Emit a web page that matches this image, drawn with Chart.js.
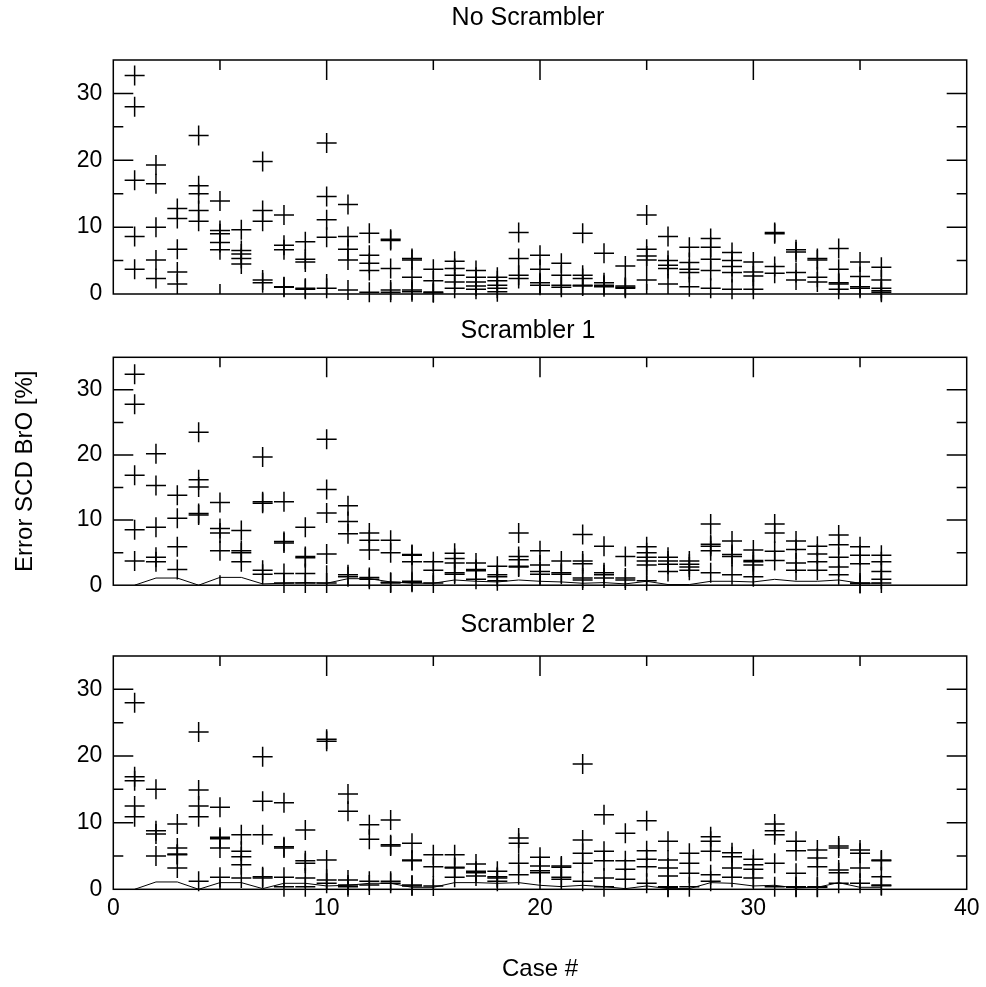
<!DOCTYPE html>
<html lang="en">
<head>
<meta charset="UTF-8">
<title>Error SCD BrO</title>
<script src="https://cdn.jsdelivr.net/npm/chart.js"></script>
<style>
  body { margin: 0; background: #fff; }
  .wrap { position: relative; width: 986px; height: 987px; }
  canvas { position: absolute; left: 0; }
</style>
</head>
<body>
<div class="wrap">
  <canvas id="p1" width="986" height="320" style="top:0px"></canvas>
  <canvas id="p2" width="986" height="300" style="top:310px"></canvas>
  <canvas id="p3" width="986" height="387" style="top:600px"></canvas>
</div>

<script>
// case numbers on the x axis
const cases = [1, 2, 3, 4, 5, 6, 7, 8, 9, 10, 11, 12, 13, 14, 15, 16, 17, 18,
               19, 20, 21, 22, 23, 24, 25, 26, 27, 28, 29, 30, 31, 32, 33, 34, 35, 36];

// errors [%] per case, one list per case
const noScrambler = [
  [32.7, 28.0, 17.0, 8.6, 3.7], [19.3, 16.5, 10.0, 5.1, 2.3], [12.8, 11.3, 6.7, 3.3, 1.5],
  [23.7, 16.2, 15.0, 12.5, 10.9], [13.9, 9.5, 9.0, 7.7, 6.6], [9.6, 6.5, 6.0, 5.3, 4.5],
  [19.8, 12.5, 10.9, 2.1, 1.7], [11.8, 7.3, 6.6, 1.1, 1.0], [7.8, 5.2, 4.8, 0.85, 0.7],
  [22.6, 14.6, 11.1, 8.5, 0.85], [13.4, 8.6, 6.7, 5.1, 0.6], [9.1, 5.8, 4.6, 3.5, 0.25],
  [8.2, 8.0, 3.8, 0.6, 0.25], [5.3, 5.1, 2.5, 0.6, 0.35], [3.7, 2.0, 0.3, 0.2],
  [4.9, 3.8, 2.8, 1.8, 0.85], [3.5, 2.5, 1.8, 1.2, 0.7], [2.5, 2.0, 1.3, 0.85, 0.35],
  [9.2, 5.3, 2.8, 2.3], [5.8, 3.7, 1.7, 1.3], [4.6, 2.8, 1.3, 1.0],
  [9.1, 2.8, 2.3, 1.3, 1.2], [6.1, 1.7, 1.3, 1.1], [4.2, 1.2, 1.0, 0.85],
  [11.8, 6.7, 5.7, 5.1, 2.1], [8.6, 5.0, 4.3, 3.8, 1.5], [7.0, 4.7, 3.7, 3.2, 1.1],
  [8.3, 7.0, 5.2, 3.5, 0.85], [6.2, 5.0, 4.1, 3.2, 0.7], [4.8, 3.3, 2.7, 0.7],
  [9.2, 9.0, 4.1, 3.1], [6.6, 6.3, 3.2, 2.1], [5.3, 5.1, 2.5, 1.8],
  [6.8, 3.7, 1.7, 1.5, 0.7], [4.8, 2.6, 1.1, 0.85], [4.0, 2.1, 0.85, 0.5, 0.25]
];

const scrambler1 = [
  [32.4, 27.8, 16.9, 8.5, 3.7], [20.2, 15.3, 8.9, 4.3, 3.6], [13.8, 10.3, 5.9, 2.4],
  [23.5, 16.2, 15.1, 11.0, 10.8], [12.7, 8.7, 8.0, 5.3], [8.4, 5.3, 5.0, 3.6],
  [19.7, 12.8, 12.6, 2.3, 1.7], [12.8, 6.7, 6.5, 1.8, 0.35], [8.9, 4.4, 4.2, 1.8, 0.35],
  [22.4, 14.7, 11.1, 4.8, 0.35], [12.2, 9.8, 7.9, 1.6, 1.3], [8.0, 6.9, 5.4, 1.2, 0.9],
  [6.9, 5.0, 0.45, 0.35], [4.7, 4.6, 3.6, 0.6, 0.45], [3.6, 2.3, 0.35],
  [4.9, 4.1, 3.4, 1.9, 1.7], [3.4, 2.4, 2.2, 0.9], [2.9, 1.6, 1.3, 0.7],
  [8.0, 4.4, 3.9, 2.9, 2.8], [5.3, 3.1, 2.1, 1.7], [3.7, 1.9, 1.7],
  [7.8, 3.7, 3.3, 1.1, 0.8], [6.0, 1.9, 1.6, 1.1], [4.4, 1.1, 0.8],
  [5.9, 5.0, 4.3, 3.7, 3.1, 0.7], [4.3, 3.7, 3.2, 2.1], [3.7, 3.2, 2.8, 2.3],
  [9.4, 6.3, 6.0, 5.3, 1.9], [6.8, 4.7, 4.4, 1.6], [5.4, 3.8, 3.6, 3.1, 1.3],
  [9.4, 8.0, 5.2, 3.8], [6.8, 5.5, 3.4, 2.3], [6.0, 4.8, 3.6, 2.3],
  [7.7, 6.2, 4.3, 2.8, 1.6], [5.9, 4.6, 3.3, 0.35, 0.25], [4.6, 3.6, 2.1, 0.9, 0.35]
];

const scrambler2 = [
  [28.0, 16.9, 16.3, 12.5, 10.9], [15.0, 8.8, 8.3, 5.0], [9.8, 6.2, 5.3, 5.2, 3.2],
  [23.6, 14.9, 12.5, 10.9, 1.2], [12.3, 7.8, 7.6, 6.2, 1.8], [8.2, 5.7, 4.9, 3.7, 1.7],
  [19.9, 13.2, 8.2, 1.9, 1.7], [13.0, 6.4, 6.2, 1.8, 0.4], [8.9, 4.3, 3.9, 1.7, 0.4],
  [22.5, 22.2, 4.4, 1.4, 0.9], [14.3, 11.7, 1.4, 0.65, 0.4], [9.7, 7.5, 1.2, 0.65],
  [10.4, 6.7, 6.5, 1.2, 0.9], [6.9, 4.4, 4.3, 0.65, 0.5], [5.2, 3.4, 0.5],
  [5.2, 3.3, 3.2, 1.8], [3.8, 2.7, 2.5, 2.0], [2.7, 1.9, 1.7, 1.2],
  [7.7, 6.9, 3.9, 2.2], [4.8, 3.5, 2.8, 2.5], [3.5, 3.3, 1.8, 1.5],
  [18.8, 7.4, 5.4, 3.9, 1.2], [11.2, 5.7, 4.3, 1.7, 0.4], [8.4, 4.3, 3.0, 1.5],
  [10.3, 5.8, 4.5, 3.4, 0.9], [7.2, 4.4, 3.2, 2.0, 0.4, 0.3], [5.4, 3.9, 2.4, 0.4],
  [7.9, 7.2, 5.7, 2.2, 1.2], [5.5, 4.9, 3.2, 1.8], [4.5, 3.7, 3.0, 1.7],
  [9.8, 8.8, 8.2, 3.9, 0.4], [7.2, 5.8, 2.4, 0.4, 0.3], [5.9, 4.7, 3.4, 0.4, 0.3],
  [6.5, 6.2, 2.9, 2.5, 0.9], [5.9, 5.4, 3.2, 0.9], [4.4, 4.3, 1.9, 0.65, 0.55]
];

// thin reference curve in the scrambler panels
const scrambler1Line = [0, 1.1, 1.1, 0, 1.2, 1.2, 0.2, 0.3, 0.4, 0.3, 1.0, 1.0, 0.5, 0.3, 0.3, 0.8, 0.6, 0.5,
                        0.8, 0.6, 0.5, 0.3, 0.4, 0.2, 0.6, 0.1, 0.1, 0.6, 0.6, 0.5, 0.9, 0.6, 0.6, 0.8, 0.3, 0.3];
const scrambler2Line = [0, 1.1, 1.1, 0, 1.0, 1.0, 0.1, 0.9, 0.9, 0.5, 0.6, 0.9, 0.9, 0.3, 0.3, 1.0, 1.0, 0.9,
                        1.0, 0.6, 0.4, 0.6, 0.4, 0.1, 0.5, 0.1, 0.1, 1.0, 0.9, 0.5, 0.6, 0.2, 0.3, 1.0, 0.3, 0.3];

const xMajor = [10, 20, 30];
const xMinor = [5, 15, 25, 35];
const yMajor = [10, 20, 30];
const yMinor = [5, 15, 25];

const FAMILY = 'Liberation Sans';
const TICK_FONT = { family: FAMILY, size: 23 };
const AXIS_FONT = { family: FAMILY, size: 24 };

// frame with inward ticks on all four sides, IDL style, plus the panel title
const frameTicks = {
  id: 'frameTicks',
  afterDraw(chart, args, opts) {
    const { ctx, chartArea: a, scales: { x, y } } = chart;
    ctx.save();
    ctx.strokeStyle = '#000';
    ctx.lineWidth = 1.5;
    ctx.strokeRect(a.left, a.top, a.right - a.left, a.bottom - a.top);
    ctx.beginPath();
    const xt = (v, len) => {
      const px = x.getPixelForValue(v);
      ctx.moveTo(px, a.top); ctx.lineTo(px, a.top + len);
      ctx.moveTo(px, a.bottom); ctx.lineTo(px, a.bottom - len);
    };
    const yt = (v, len) => {
      const py = y.getPixelForValue(v);
      ctx.moveTo(a.left, py); ctx.lineTo(a.left + len, py);
      ctx.moveTo(a.right, py); ctx.lineTo(a.right - len, py);
    };
    xMajor.forEach(v => xt(v, 20));
    xMinor.forEach(v => xt(v, 10));
    yMajor.forEach(v => yt(v, 20));
    yMinor.forEach(v => yt(v, 10));
    ctx.stroke();

    // title sits a little left of the plot centre, as in the original
    ctx.fillStyle = '#000';
    ctx.font = '25px "Liberation Sans"';
    ctx.textAlign = 'center';
    ctx.textBaseline = 'middle';
    ctx.fillText(opts.text, 528, opts.y);
    ctx.restore();
  }
};

function makePanel(id, title, values, lineValues, o) {
  const pts = [];
  values.forEach((list, i) => list.forEach(v => pts.push({ x: cases[i], y: v })));
  const datasets = [{
    data: pts,
    pointStyle: 'cross',
    pointRadius: 10,
    pointHoverRadius: 10,
    borderColor: '#000',
    pointBorderWidth: 1.5,
    clip: false
  }];
  if (lineValues) {
    datasets.push({
      data: lineValues.map((v, i) => ({ x: cases[i], y: v })),
      showLine: true,
      borderColor: '#000',
      borderWidth: 1,
      pointRadius: 0,
      tension: 0
    });
  }
  new Chart(document.getElementById(id), {
    type: 'scatter',
    data: { datasets },
    plugins: [frameTicks],
    options: {
      responsive: false,
      animation: false,
      layout: { padding: { left: 0, right: 19.3, top: o.padTop, bottom: o.padBottom } },
      plugins: {
        legend: { display: false },
        tooltip: { enabled: false },
        title: { display: false },
        frameTicks: { text: title, y: o.titleY }
      },
      scales: {
        x: {
          min: 0, max: 40,
          grid: { display: false, drawTicks: false },
          border: { display: false },
          ticks: { display: o.xLabels, stepSize: 10, color: '#000', font: TICK_FONT, padding: 6, maxRotation: 0 },
          title: { display: o.xLabels, text: 'Case #', color: '#000', font: AXIS_FONT, padding: { top: 0, bottom: 3 } },
          afterFit: s => { s.height = o.xHeight; }
        },
        y: {
          min: 0, max: 35,
          grid: { display: false, drawTicks: false },
          border: { display: false },
          ticks: { stepSize: 10, includeBounds: false, color: '#000', font: TICK_FONT, padding: 11 },
          title: { display: o.yTitle, text: 'Error SCD BrO [%]', color: '#000', font: AXIS_FONT, padding: { top: 10.6, bottom: 0 } },
          afterFit: s => { s.width = 113.3; }
        }
      }
    }
  });
}

makePanel('p1', 'No Scrambler', noScrambler, null,
  { padTop: 60, padBottom: 26, titleY: 18, xLabels: false, xHeight: 0, yTitle: false });
makePanel('p2', 'Scrambler 1', scrambler1, scrambler1Line,
  { padTop: 47.3, padBottom: 17.7, titleY: 21.5, xLabels: false, xHeight: 0, yTitle: true });
makePanel('p3', 'Scrambler 2', scrambler2, scrambler2Line,
  { padTop: 56, padBottom: 0, titleY: 25.5, xLabels: true, xHeight: 97.7, yTitle: false });
</script>
</body>
</html>
